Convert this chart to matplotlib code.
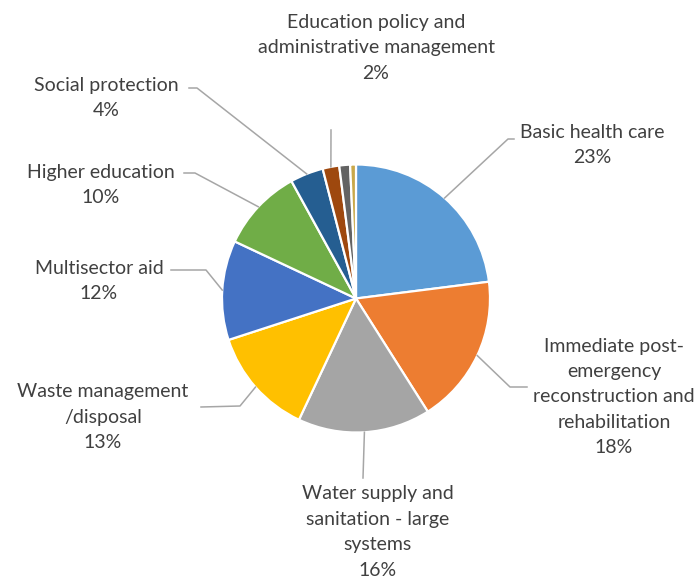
import matplotlib.pyplot as plt
import numpy as np

W, H = 697, 579

labels = [
    "Basic health care",
    "Immediate post-\nemergency\nreconstruction and\nrehabilitation",
    "Water supply and\nsanitation - large\nsystems",
    "Waste management\n/disposal",
    "Multisector aid",
    "Higher education",
    "Social protection",
    "Education policy and\nadministrative management",
    "",
    "",
]
shares = [23, 18, 16, 13, 12, 10, 4, 2, 1.3, 0.7]
colors = ["#5b9bd5", "#ed7d31", "#a5a5a5", "#ffc000", "#4472c4",
          "#70ad47", "#255e91", "#9e480e", "#636363", "#c9a84a"]

# label centre (pixels from top-left) and leader path from text side
label_pos = [(592, 145), (614, 397), (378, 532), (103, 417), (99, 281),
             (101, 185), (106, 98), (376, 48)]
leader_pts = [
    [(508, 139), (514, 139)],
    [(510, 387), (527, 387)],
    [(363, 478)],
    [(240, 406), (201, 407)],
    [(206, 270), (171, 270)],
    [(195, 173), (184, 173)],
    [(197, 88), (189, 88)],
    [(331, 130)],
]

cx, cy, r = 356, 298.5, 134

plt.rcParams["font.family"] = ["Lato", "DejaVu Sans"]
fig = plt.figure(figsize=(W / 100, H / 100), dpi=100)
ax = fig.add_axes([0, 0, 1, 1])

wedges, _ = ax.pie(shares, colors=colors, startangle=90, counterclock=False,
                   center=(cx, H - cy), radius=r,
                   wedgeprops=dict(edgecolor="white", linewidth=1.6))
ax.set_xlim(0, W)
ax.set_ylim(0, H)
ax.set_aspect("equal")
ax.axis("off")

total = sum(shares)
for i, (lab, pos, pts) in enumerate(zip(labels, label_pos, leader_pts)):
    start = sum(shares[:i]) / total
    mid = start + shares[i] / total / 2
    ang = np.deg2rad(90 - mid * 360)
    ex, ey = cx + r * np.cos(ang), cy - r * np.sin(ang)
    path = [(ex, ey)] + pts
    ax.plot([p[0] for p in path], [H - p[1] for p in path],
            color="#a6a6a6", lw=1.1, zorder=1)
    ax.text(pos[0], H - pos[1], f"{lab}\n{shares[i]:.0f}%", ha="center",
            va="center", fontsize=14, color="#404040", linespacing=1.6)

fig.savefig("out.png", dpi=100)
